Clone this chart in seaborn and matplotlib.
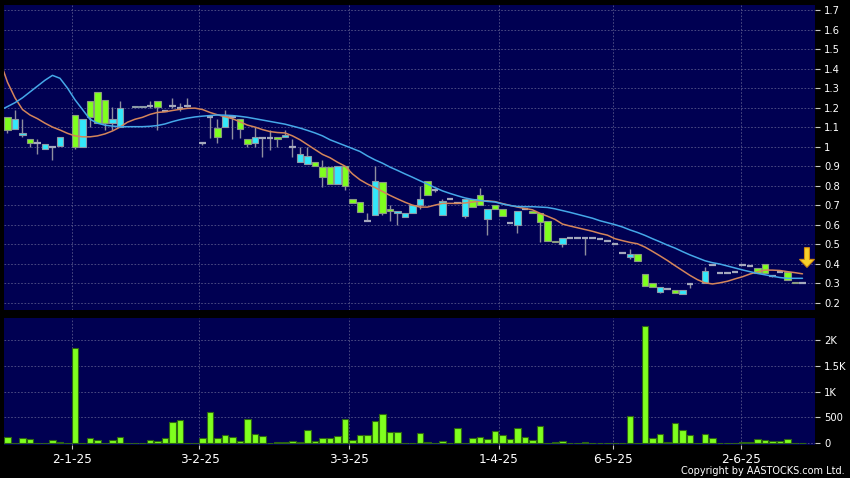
import numpy as np
import pandas as pd
import matplotlib
matplotlib.use("Agg")
import matplotlib.pyplot as plt
import seaborn as sns
from matplotlib.patches import Polygon

nan = np.nan

# ---------------- data (one slot per trading day, index 0..106) ----------------
opens = [1.15, 1.09, 1.058, 1.037, 1.02, 0.99, 1.0, 1.002, nan, 1.16,
         1.0, 1.232, 1.278, 1.237, 1.119, 1.10, nan, 1.203, 1.203, 1.21,
         1.232, 1.18, 1.21, 1.20, 1.21, nan, 1.017, 1.15, 1.097, 1.099,
         1.15, 1.14, 1.037, 1.017, 1.042, 1.045, 1.047, 1.047, 0.996, 0.919,
         0.91, 0.919, 0.897, 0.897, 0.808, 0.90, 0.73, 0.718, 0.62, 0.647,
         0.817, 0.678, 0.658, 0.637, 0.658, 0.699, 0.825, 0.78, 0.648, 0.73,
         0.71, 0.646, 0.73, 0.75, 0.627, 0.70, 0.678, 0.607, 0.598, 0.678,
         0.671, 0.658, 0.619, 0.515, 0.501, 0.53, 0.53, 0.53, 0.53, 0.525,
         0.518, 0.50, 0.453, 0.436, 0.449, 0.345, 0.299, 0.256, 0.268, 0.265,
         0.244, 0.295, nan, 0.302, 0.395, 0.35, 0.354, 0.355, 0.393, 0.39,
         0.379, 0.398, 0.338, 0.355, 0.355, 0.303, 0.30]
highs = [1.15, 1.19, 1.14, 1.037, 1.037, 1.015, 1.0, 1.048, nan, 1.16,
         1.14, 1.232, 1.278, 1.237, 1.205, 1.235, nan, 1.21, 1.21, 1.232,
         1.232, 1.18, 1.247, 1.222, 1.247, nan, 1.025, 1.162, 1.14, 1.187,
         1.15, 1.14, 1.037, 1.099, 1.042, 1.085, 1.047, 1.085, 1.037, 0.999,
         0.999, 0.919, 0.931, 0.897, 0.90, 0.90, 0.73, 0.718, 0.658, 0.90,
         0.817, 0.70, 0.668, 0.658, 0.699, 0.798, 0.825, 0.786, 0.73, 0.73,
         0.71, 0.73, 0.73, 0.786, 0.678, 0.70, 0.678, 0.607, 0.671, 0.678,
         0.671, 0.658, 0.619, 0.515, 0.53, 0.53, 0.53, 0.53, 0.53, 0.525,
         0.518, 0.50, 0.453, 0.475, 0.449, 0.345, 0.299, 0.278, 0.268, 0.265,
         0.265, 0.295, nan, 0.384, 0.395, 0.35, 0.354, 0.355, 0.393, 0.39,
         0.379, 0.398, 0.338, 0.355, 0.355, 0.303, 0.30]
lows = [1.07, 1.09, 1.048, 1.0, 0.96, 0.99, 0.93, 1.002, nan, 0.99,
        1.0, 1.10, 1.119, 1.085, 1.085, 1.10, nan, 1.203, 1.203, 1.20,
        1.085, 1.18, 1.196, 1.184, 1.204, nan, 1.01, 1.042, 1.017, 1.099,
        1.037, 1.042, 0.999, 0.999, 0.948, 0.982, 0.999, 1.047, 0.948, 0.919,
        0.91, 0.90, 0.795, 0.806, 0.808, 0.78, 0.709, 0.666, 0.62, 0.647,
        0.647, 0.619, 0.598, 0.637, 0.658, 0.678, 0.75, 0.769, 0.648, 0.73,
        0.71, 0.636, 0.689, 0.70, 0.547, 0.678, 0.646, 0.607, 0.555, 0.678,
        0.658, 0.509, 0.518, 0.511, 0.487, 0.53, 0.53, 0.444, 0.53, 0.525,
        0.518, 0.50, 0.453, 0.422, 0.415, 0.285, 0.278, 0.248, 0.268, 0.248,
        0.244, 0.273, nan, 0.302, 0.395, 0.35, 0.354, 0.355, 0.393, 0.39,
        0.35, 0.354, 0.33, 0.355, 0.316, 0.30, 0.30]
closes = [1.085, 1.14, 1.07, 1.017, 1.02, 1.015, 1.0, 1.048, nan, 1.0,
          1.14, 1.15, 1.119, 1.119, 1.14, 1.20, nan, 1.21, 1.21, 1.21,
          1.203, 1.18, 1.21, 1.20, 1.21, nan, 1.017, 1.15, 1.047, 1.157,
          1.15, 1.088, 1.011, 1.047, 1.042, 1.045, 1.04, 1.06, 0.996, 0.96,
          0.95, 0.90, 0.846, 0.806, 0.90, 0.798, 0.709, 0.666, 0.62, 0.825,
          0.658, 0.668, 0.668, 0.658, 0.699, 0.73, 0.75, 0.78, 0.72, 0.73,
          0.71, 0.73, 0.689, 0.70, 0.678, 0.678, 0.646, 0.607, 0.671, 0.678,
          0.658, 0.615, 0.518, 0.511, 0.53, 0.53, 0.53, 0.53, 0.53, 0.525,
          0.518, 0.50, 0.453, 0.449, 0.415, 0.287, 0.278, 0.278, 0.268, 0.248,
          0.265, 0.295, nan, 0.364, 0.395, 0.35, 0.354, 0.355, 0.393, 0.39,
          0.35, 0.354, 0.338, 0.355, 0.316, 0.30, 0.30]
volume = [116, 8, 97, 84, 8, 8, 58, 30, 0, 1851,
          8, 103, 58, 0, 58, 116, 8, 8, 8, 58,
          45, 97, 418, 445, 8, 0, 103, 600, 103, 167,
          116, 45, 471, 186, 135, 8, 20, 30, 45, 20,
          264, 39, 103, 103, 142, 471, 64, 161, 161, 438,
          561, 225, 225, 0, 8, 200, 26, 0, 45, 0,
          290, 8, 108, 122, 90, 238, 155, 90, 290, 129,
          58, 335, 0, 20, 50, 0, 0, 20, 10, 0,
          0, 15, 10, 523, 10, 2277, 103, 186, 32, 400,
          258, 155, 8, 174, 103, 15, 15, 0, 20, 35,
          90, 64, 50, 45, 84, 10, 15]

# moving averages, slots -1..106
ma_short = [1.44, 1.33, 1.25, 1.19, 1.162, 1.143, 1.12, 1.10, 1.085, 1.068,
            1.055, 1.05, 1.05, 1.055, 1.065, 1.08, 1.10, 1.125, 1.14, 1.15,
            1.165, 1.175, 1.178, 1.185, 1.191, 1.196, 1.197, 1.19, 1.175, 1.163,
            1.153, 1.143, 1.127, 1.11, 1.10, 1.087, 1.077, 1.072, 1.07, 1.055,
            1.035, 1.01, 0.985, 0.96, 0.943, 0.92, 0.90, 0.86, 0.83, 0.808,
            0.79, 0.77, 0.75, 0.732, 0.715, 0.70, 0.69, 0.69, 0.70, 0.709,
            0.709, 0.709, 0.711, 0.716, 0.721, 0.722, 0.718, 0.708, 0.699, 0.69,
            0.683, 0.676, 0.658, 0.643, 0.627, 0.603, 0.593, 0.584, 0.575, 0.566,
            0.555, 0.546, 0.528, 0.518, 0.509, 0.502, 0.485, 0.463, 0.44, 0.416,
            0.39, 0.365, 0.34, 0.318, 0.302, 0.296, 0.302, 0.31, 0.322, 0.333,
            0.347, 0.358, 0.367, 0.367, 0.365, 0.359, 0.354, 0.348]
ma_long = [1.186, 1.205, 1.225, 1.25, 1.28, 1.31, 1.34, 1.365, 1.35, 1.30,
           1.24, 1.19, 1.14, 1.12, 1.11, 1.105, 1.102, 1.102, 1.102, 1.102,
           1.104, 1.108, 1.116, 1.128, 1.138, 1.146, 1.152, 1.156, 1.159, 1.162,
           1.161, 1.159, 1.155, 1.15, 1.143, 1.136, 1.129, 1.122, 1.115, 1.105,
           1.095, 1.083, 1.07, 1.055, 1.035, 1.02, 1.005, 0.99, 0.975, 0.952,
           0.932, 0.915, 0.895, 0.878, 0.86, 0.843, 0.825, 0.808, 0.79, 0.773,
           0.76, 0.748, 0.737, 0.729, 0.724, 0.719, 0.716, 0.706, 0.698, 0.693,
           0.692, 0.692, 0.69, 0.688, 0.681, 0.672, 0.663, 0.653, 0.643, 0.633,
           0.62, 0.61, 0.60, 0.588, 0.573, 0.56, 0.545, 0.528, 0.512, 0.495,
           0.48, 0.462, 0.445, 0.43, 0.415, 0.405, 0.398, 0.388, 0.378, 0.368,
           0.359, 0.35, 0.343, 0.336, 0.329, 0.325, 0.325, 0.325]

date_ticks = [8.55, 25.6, 45.5, 65.55, 80.7, 97.8]
date_labels = ["2-1-25", "3-2-25", "3-3-25", "1-4-25", "6-5-25", "2-6-25"]
price_ticks = [0.2, 0.3, 0.4, 0.5, 0.6, 0.7, 0.8, 0.9, 1.0, 1.1, 1.2, 1.3, 1.4, 1.5, 1.6, 1.7]
vol_ticks = [0, 500, 1000, 1500, 2000]
vol_labels = ["0", "500", "1K", "1.5K", "2K"]

# ---------------- style ----------------
NAVY = "#000052"
LIME = "#7fff1e"
CYAN = "#33e8fa"
GRID = "#55558a"
WICK = "#8e8e9e"
DOJI = "#a4a8bc"
ORANGE = "#d4855a"
BLUE = "#45a8e8"

sns.set_theme(style="dark")
plt.rcParams["font.family"] = ["DejaVu Sans"]

n = len(opens)
idx = np.arange(n)
df = pd.DataFrame(dict(idx=idx, o=opens, h=highs, l=lows, c=closes, v=volume))
valid = df.dropna()
up = valid[valid.c > valid.o]
dn = valid[valid.c < valid.o]
eq = valid[valid.c == valid.o]
ma_df = pd.DataFrame(dict(idx=np.arange(-1, n), short=ma_short, long=ma_long))

fig = plt.figure(figsize=(8.5, 4.78), dpi=100, facecolor="black")
W, H = 850.0, 478.0
x0, x1 = 3.5, 815.0
ax = fig.add_axes([x0 / W, 1 - 310 / H, (x1 - x0) / W, (310 - 5) / H])
axv = fig.add_axes([x0 / W, 1 - 444.5 / H, (x1 - x0) / W, (444.5 - 318) / H])

# candles
BW = 0.82
ax.vlines(valid.idx, valid.l, valid.h, color=WICK, lw=1.0, zorder=2)
ax.bar(up.idx, (up.c - up.o).clip(lower=0.004), bottom=up.o, width=BW,
       color=CYAN, edgecolor="#8c9aa6", linewidth=0.8, zorder=3)
ax.bar(dn.idx, (dn.o - dn.c).clip(lower=0.004), bottom=dn.c, width=BW,
       color=LIME, edgecolor="#8a9a80", linewidth=0.8, zorder=3)
ax.hlines(eq.c, eq.idx - BW / 2, eq.idx + BW / 2, color=DOJI, lw=1.6, zorder=3)

# moving averages
sns.lineplot(data=ma_df, x="idx", y="short", ax=ax, color=ORANGE, lw=1.1, zorder=4)
sns.lineplot(data=ma_df, x="idx", y="long", ax=ax, color=BLUE, lw=1.1, zorder=4)

# arrow marker near last bar
xc = 106.6
arrow = Polygon([(xc - 0.33, 0.482), (xc + 0.33, 0.482), (xc + 0.33, 0.422),
                 (xc + 1.0, 0.422), (xc, 0.381), (xc - 1.0, 0.422),
                 (xc - 0.33, 0.422)], closed=True, facecolor="#f7d02a",
                edgecolor="#d08a10", lw=0.8, zorder=6)
ax.add_patch(arrow)

# volume
sns.barplot(data=df, x="idx", y="v", native_scale=True, ax=axv, color=LIME,
            saturation=1, width=0.88, edgecolor="#2e6612", linewidth=0.8,
            errorbar=None, zorder=3)

for a in (ax, axv):
    a.set_facecolor(NAVY)
    for s in a.spines.values():
        s.set_visible(False)
    a.set_xlim(-0.53, 107.67)
    a.set_xlabel("")
    a.set_ylabel("")
    a.yaxis.tick_right()
    a.tick_params(axis="y", which="both", right=True, left=False, length=3.5,
                  width=0.8, color="#c8c8c8", labelcolor="white", labelsize=7.2,
                  pad=3, direction="out")
    a.grid(True, color=GRID, linestyle=(0, (2.0, 2.0)), lw=0.6)
    a.set_axisbelow(True)
    a.set_xticks(date_ticks)

ax.set_ylim(0.1626, 1.7256)
ax.set_yticks(price_ticks)
ax.set_yticklabels([f"{v:g}" for v in price_ticks])
ax.tick_params(axis="x", length=0, labelbottom=False, bottom=False)

axv.set_ylim(-23, 2426)
axv.set_yticks(vol_ticks)
axv.set_yticklabels(vol_labels)
axv.set_xticklabels(date_labels)
axv.tick_params(axis="x", bottom=True, length=3, width=0.8, color="#c8c8c8",
                labelcolor="white", labelsize=8.7, pad=3, direction="out")

fig.text(845 / W, 2.0 / H, "Copyright by AASTOCKS.com Ltd.", ha="right",
         va="bottom", color="white", fontsize=7)

fig.savefig("out.png", dpi=100, facecolor="black")
